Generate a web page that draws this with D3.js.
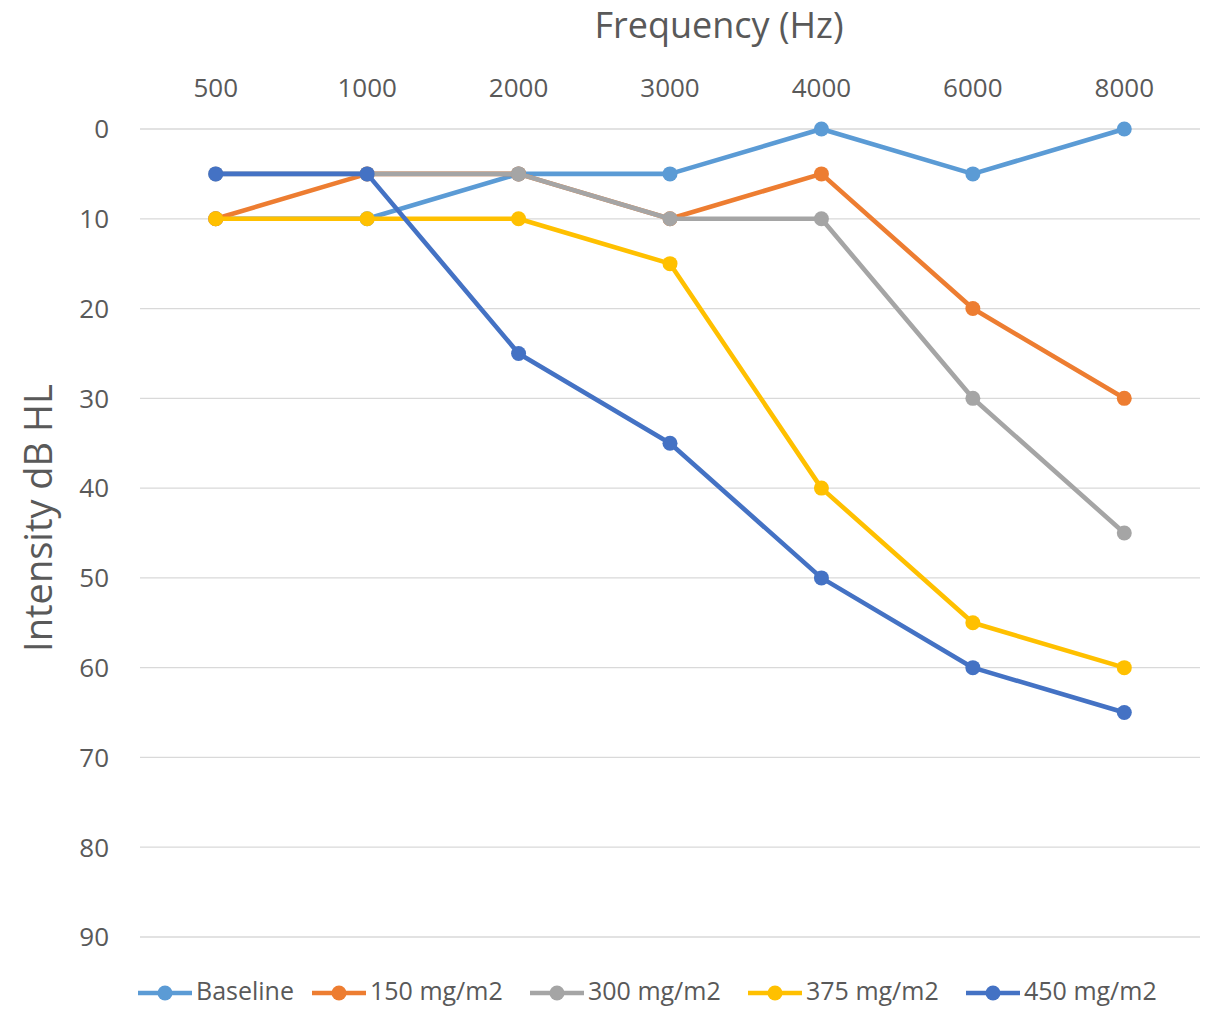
<!DOCTYPE html>
<html><head><meta charset="utf-8">
<script src="https://cdn.jsdelivr.net/npm/d3@7"></script>
<style>body{margin:0;background:#fff;}svg{display:block;font-family:"Open Sans",sans-serif;}</style>
</head><body><svg id="c" width="1210" height="1010"></svg>
<script>
const categories = ["500","1000","2000","3000","4000","6000","8000"];
const seriesNames = ["Baseline","150 mg/m2","300 mg/m2","375 mg/m2","450 mg/m2"];
const baseline = [10,10,5,5,0,5,0];
const dose150 = [10,5,5,10,5,20,30];
const dose300 = [5,5,5,10,10,30,45];
const dose375 = [10,10,10,15,40,55,60];
const dose450 = [5,5,25,35,50,60,65];
const yTicks = [0,10,20,30,40,50,60,70,80,90];
const colors = ["#5B9BD5","#ED7D31","#A5A5A5","#FFC000","#4472C4"];
const seriesValues = [baseline,dose150,dose300,dose375,dose450];

const svg = d3.select("#c");
const L=140,R=1200,T=129,B=937;
const x = d3.scalePoint().domain(categories).range([L,R]).padding(0.5);
const y = d3.scaleLinear().domain([0,90]).range([T,B]);
const txt="#595959";

const g = svg.append("g");
g.selectAll("line.grid").data(yTicks).join("line")
 .attr("x1",L).attr("x2",R).attr("y1",d=>y(d)).attr("y2",d=>y(d))
 .attr("stroke","#D9D9D9").attr("stroke-width",1.3);

svg.append("g").selectAll("text").data(yTicks).join("text")
 .attr("x",109).attr("y",d=>y(d)).attr("dy","0.36em").attr("text-anchor","end")
 .attr("font-size",26).attr("fill",txt).text(d=>d);
svg.append("g").selectAll("text").data(categories).join("text")
 .attr("x",d=>x(d)).attr("y",88).attr("dy","0.36em").attr("text-anchor","middle")
 .attr("font-size",26).attr("fill",txt).text(d=>d);

svg.append("text").attr("x",719).attr("y",25).attr("dy","0.36em").attr("text-anchor","middle")
 .attr("font-size",36).attr("fill",txt).text("Frequency (Hz)");
svg.append("text").attr("transform","translate(38,518) rotate(-90)").attr("dy","0.36em")
 .attr("text-anchor","middle").attr("font-size",38).attr("fill",txt).text("Intensity dB HL");

const line = d3.line().x((d,i)=>x(categories[i])).y(d=>y(d));
seriesValues.forEach((vals,si)=>{
  const s = svg.append("g");
  s.append("path").attr("d",line(vals)).attr("fill","none")
   .attr("stroke",colors[si]).attr("stroke-width",4.6).attr("stroke-linejoin","round").attr("stroke-linecap","round");
  s.selectAll("circle").data(vals).join("circle")
   .attr("cx",(d,i)=>x(categories[i])).attr("cy",d=>y(d)).attr("r",7.5).attr("fill",colors[si]);
});

const legX = [138,312,530,748,966];
const ly = 991;
seriesNames.forEach((n,i)=>{
  const lg = svg.append("g");
  lg.append("line").attr("x1",legX[i]).attr("x2",legX[i]+54).attr("y1",ly+2).attr("y2",ly+2)
    .attr("stroke",colors[i]).attr("stroke-width",4.6);
  lg.append("circle").attr("cx",legX[i]+27).attr("cy",ly+2).attr("r",7.5).attr("fill",colors[i]);
  lg.append("text").attr("x",legX[i]+58).attr("y",ly).attr("dy","0.36em")
    .attr("font-size",25).attr("fill",txt).text(n);
});
</script></body></html>
